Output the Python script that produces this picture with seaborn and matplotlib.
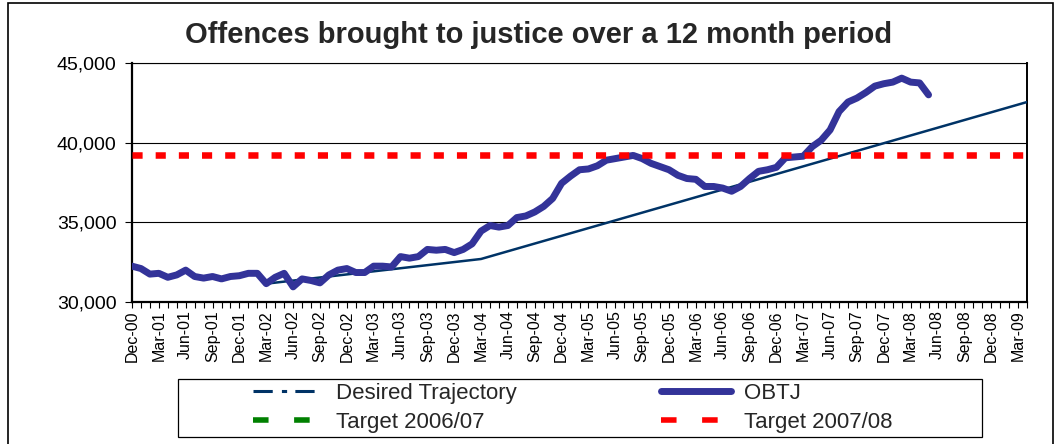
import matplotlib
matplotlib.use("Agg")
import matplotlib.pyplot as plt
from matplotlib.lines import Line2D
from matplotlib.patches import Rectangle
import pandas as pd
import seaborn as sns

# Monthly categories on the x axis (Dec-00 .. Apr-09)
months = pd.date_range("2000-12-01", "2009-04-01", freq="MS").strftime("%b-%y").tolist()

# Offences brought to justice, rolling 12-month total (Dec-00 .. May-08)
obtj = [
    32250, 32100, 31750, 31800, 31550, 31700, 32000, 31600, 31500, 31600,
    31450, 31600, 31650, 31800, 31800, 31150, 31550, 31800, 30950, 31450,
    31350, 31200, 31700, 32000, 32100, 31850, 31850, 32250, 32250, 32200,
    32850, 32750, 32850, 33300, 33250, 33300, 33100, 33300, 33650, 34450,
    34800, 34700, 34800, 35300, 35400, 35650, 36000, 36500, 37450, 37900,
    38300, 38350, 38550, 38900, 39000, 39100, 39200, 39000, 38700, 38500,
    38300, 37950, 37750, 37700, 37250, 37250, 37150, 36950, 37250, 37750,
    38200, 38300, 38450, 39050, 39100, 39150, 39750, 40150, 40800, 41950,
    42550, 42800, 43150, 43550, 43700, 43800, 44050, 43800, 43750, 43000,
]

# Desired trajectory break points
trajectory_months = ["Mar-02", "Mar-04", "Apr-09"]
trajectory_values = [31150, 32700, 42550]

# Target for 2007/08
target_0708 = 39200

y_ticks = [30000, 35000, 40000, 45000]
title = "Offences brought to justice over a 12 month period"

sns.set_style("white")
plt.rcParams["font.family"] = ["Liberation Sans", "DejaVu Sans"]

W, H = 1060, 444
fig = plt.figure(figsize=(W / 100, H / 100), dpi=100)
ax = fig.add_axes([132 / W, 1 - 302 / H, (1027 - 132) / W, (302 - 63) / H])

obtj_df = pd.DataFrame({"pos": range(len(obtj)), "value": obtj})
traj_df = pd.DataFrame({
    "pos": [months.index(m) for m in trajectory_months],
    "value": trajectory_values,
})

navy = "#003366"
indigo = "#333399"
red = "#ff0000"
green = "#008000"

sns.lineplot(data=traj_df, x="pos", y="value", ax=ax, color=navy,
             linewidth=1.8, zorder=3, legend=False)
sns.lineplot(data=obtj_df, x="pos", y="value", ax=ax, color=indigo,
             linewidth=5.0, zorder=4, legend=False,
             solid_capstyle="round", solid_joinstyle="round")
ax.axhline(target_0708, color=red, linewidth=4.7,
           linestyle=(0, (1.55, 2.0)), dash_capstyle="butt", zorder=5)

ax.set_xlim(0, len(months) - 1)
ax.set_ylim(y_ticks[0], y_ticks[-1])
ax.set_yticks(y_ticks)
ax.set_yticklabels([f"{v:,}" for v in y_ticks], fontsize=14)
ax.set_xticks(range(len(months)))
ax.set_xticklabels([m if i % 3 == 0 else "" for i, m in enumerate(months)],
                   rotation=90, fontsize=11.5, va="top")
ax.set_xlabel("")
ax.set_ylabel("")

ax.yaxis.grid(True, color="black", linewidth=0.8)
ax.set_axisbelow(True)
ax.tick_params(axis="x", direction="out", length=4, width=0.8, pad=2,
               colors="black", bottom=True)
ax.tick_params(axis="y", direction="out", length=5, width=0.8, pad=6,
               colors="black", left=True)
for side in ("left", "bottom"):
    ax.spines[side].set_linewidth(1.6)
    ax.spines[side].set_color("black")
for side in ("top", "right"):
    ax.spines[side].set_visible(True)
    ax.spines[side].set_color("black")
ax.spines["top"].set_linewidth(0.8)
ax.spines["right"].set_linewidth(1.4)

fig.text(539 / W, 1 - 35 / H, title, ha="center", va="center",
         fontsize=21, fontweight="bold")

# Outer chart border
fig.patches.append(Rectangle((8 / W, -0.2), (1053 - 8) / W, 1.2 - 3 / H,
                             transform=fig.transFigure, fill=False,
                             edgecolor="black", linewidth=1.2))

# Legend box and entries (filled column by column: left column first)
fig.patches.append(Rectangle((178 / W, 1 - 437 / H), (982 - 178) / W, 58 / H,
                             transform=fig.transFigure, fill=False,
                             edgecolor="black", linewidth=0.9))
handles = [
    Line2D([], [], color=navy, linewidth=2.2,
           linestyle=(0, (6.3, 3.0, 1.7, 2.7))),
    Line2D([], [], color=green, linewidth=4.0,
           linestyle=(0, (2.8, 4.6)), dash_capstyle="butt"),
    Line2D([], [], color=indigo, linewidth=5.0, solid_capstyle="round"),
    Line2D([], [], color=red, linewidth=4.0,
           linestyle=(0, (2.8, 4.6)), dash_capstyle="butt"),
]
labels = ["Desired Trajectory", "Target 2006/07", "OBTJ", "Target 2007/08"]
leg = fig.legend(handles, labels, ncol=2, loc="center",
                 bbox_to_anchor=(573 / W, 1 - 408 / H),
                 frameon=False, fontsize=16, handlelength=3.15,
                 handletextpad=0.59, columnspacing=6.5, labelspacing=0.36,
                 borderpad=0.0)

fig.savefig("out.png", dpi=100, facecolor="white")
